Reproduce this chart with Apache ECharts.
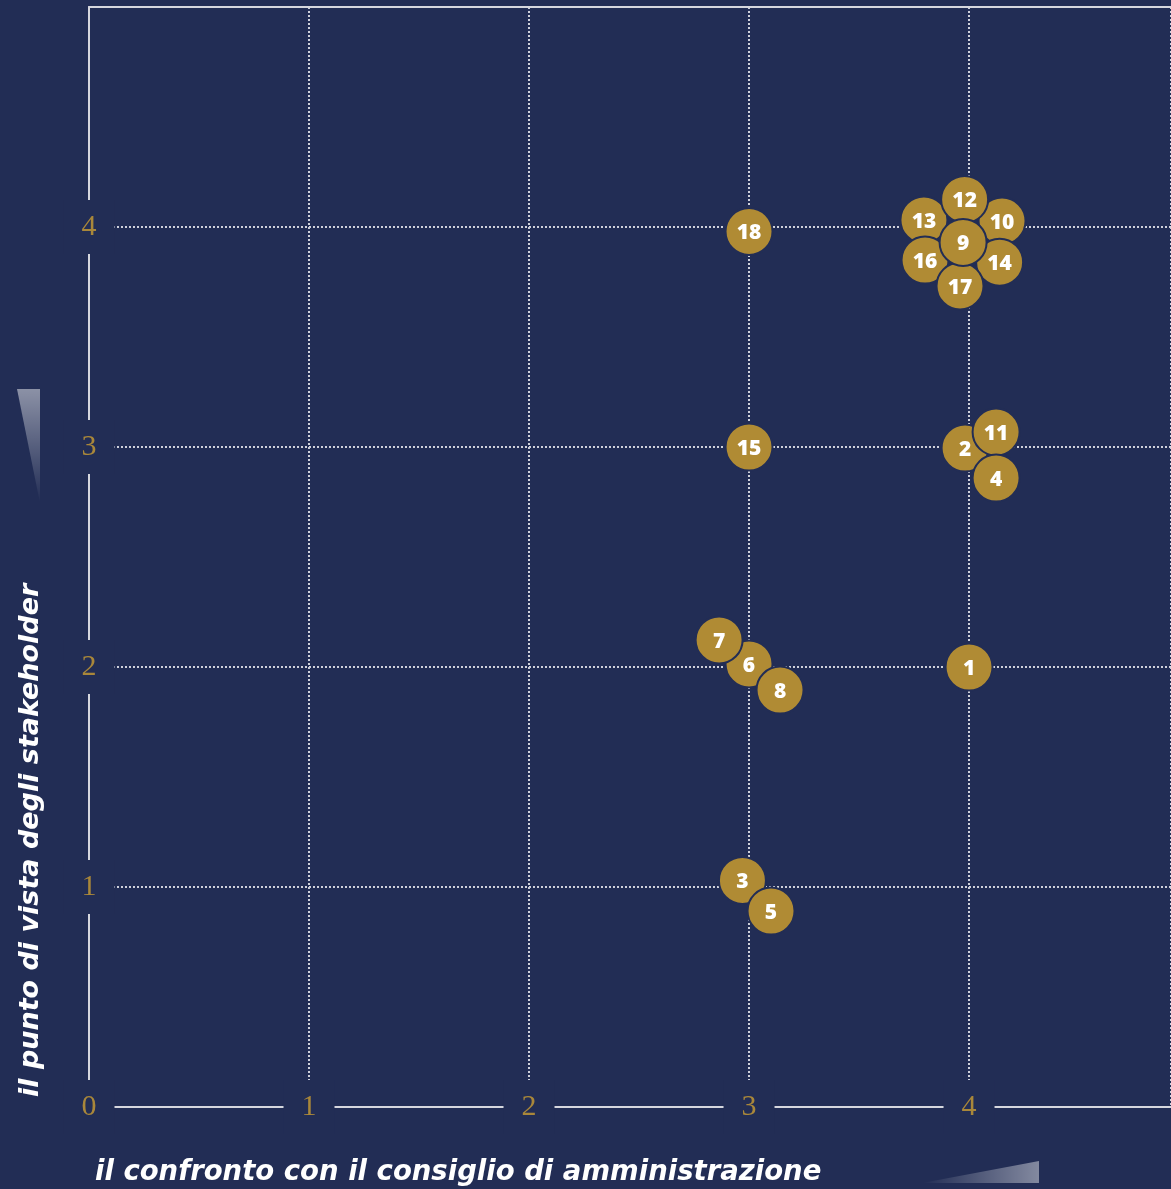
<!DOCTYPE html>
<html>
<head>
<meta charset="utf-8">
<script src="https://cdn.jsdelivr.net/npm/echarts@6/dist/echarts.min.js"></script>
<style>
html,body{margin:0;padding:0;background:#222d55;}
#chart{width:1171px;height:1189px;}
</style>
</head>
<body>
<div id="chart"></div>
<script>
// Data (drawing order: later points on top)
const ids = ['18','15','1','6','7','8','3','5','2','11','4','13','10','16','14','12','17','9'];
const xVals = [3.0, 3.0, 4.0, 3.0, 2.864, 3.141, 2.97, 3.1, 3.982, 4.123, 4.123, 3.795, 4.15, 3.8, 4.139, 3.98, 3.959, 3.973];
const yVals = [3.98, 3.0, 2.0, 2.014, 2.123, 1.895, 1.03, 0.891, 2.995, 3.068, 2.859, 4.032, 4.027, 3.85, 3.84, 4.125, 3.732, 3.93];
const xTitle = 'il confronto con il consiglio di amministrazione';
const yTitle = 'il punto di vista degli stakeholder';
const xMin = 0, xMax = 4.918, yMin = 0, yMax = 5, axisStep = 1;

const NAVY = '#222d55';
const GOLD = '#b08b34';
const LABEL_GOLD = '#a9873a';
const LINE = '#d6d7de';
const DOT = '#cfd1db';

const chart = echarts.init(document.getElementById('chart'), null, {renderer: 'canvas'});

const labelStyle = {
  color: LABEL_GOLD,
  fontFamily: '"Liberation Serif", "DejaVu Serif", serif',
  fontSize: 30,
  lineHeight: 30,
  backgroundColor: NAVY,
  padding: [12, 18, 12, 18],
  margin: 0
};
const dotted = {show: true, lineStyle: {color: DOT, width: 2, type: [2, 2]}};

const option = {
  backgroundColor: NAVY,
  animation: false,
  grid: {left: 89, right: 0, top: 7, bottom: 82, containLabel: false},
  xAxis: [{
    type: 'value', min: xMin, max: xMax, interval: axisStep,
    axisLine: {show: true, lineStyle: {color: LINE, width: 2}},
    axisTick: {show: false},
    axisLabel: Object.assign({}, labelStyle, {verticalAlign: 'middle', align: 'center', showMaxLabel: false}),
    splitLine: dotted
  }, {
    type: 'value', position: 'top', min: xMin, max: xMax, interval: axisStep,
    axisLine: {show: true, onZero: false, lineStyle: {color: LINE, width: 2}},
    axisTick: {show: false}, axisLabel: {show: false}, splitLine: {show: false}
  }],
  yAxis: {
    type: 'value', min: yMin, max: yMax, interval: axisStep,
    axisLine: {show: true, lineStyle: {color: LINE, width: 2}},
    axisTick: {show: false},
    axisLabel: Object.assign({}, labelStyle, {align: 'center', verticalAlign: 'middle', showMinLabel: false, showMaxLabel: false}),
    splitLine: dotted
  },
  graphic: [
    {
      type: 'polygon', silent: true,
      shape: {points: [[17, 389], [40, 389], [40, 503]]},
      style: {fill: new echarts.graphic.LinearGradient(0, 0, 0, 1, [
        {offset: 0, color: 'rgba(255,255,255,0.48)'},
        {offset: 1, color: 'rgba(255,255,255,0)'}
      ])}
    },
    {
      type: 'polygon', silent: true,
      shape: {points: [[922, 1183], [1039, 1161], [1039, 1183]]},
      style: {fill: new echarts.graphic.LinearGradient(0, 0, 1, 0, [
        {offset: 0, color: 'rgba(255,255,255,0)'},
        {offset: 1, color: 'rgba(255,255,255,0.44)'}
      ])}
    },
    {
      type: 'text', x: 95, y: 1173,
      style: {text: xTitle, fill: '#ffffff', font: 'italic bold 27.5px "DejaVu Sans", sans-serif',
        textAlign: 'left', textVerticalAlign: 'middle'}
    },
    {
      type: 'text', x: 31, y: 1097, rotation: Math.PI / 2,
      style: {text: yTitle, fill: '#ffffff', font: 'italic bold 27px "DejaVu Sans", sans-serif',
        textAlign: 'left', textVerticalAlign: 'middle'}
    }
  ],
  series: [{
    type: 'scatter',
    xAxisIndex: 0,
    symbol: 'circle',
    symbolSize: 47,
    itemStyle: {color: GOLD, borderColor: NAVY, borderWidth: 2, opacity: 1},
    label: {
      show: true, position: 'inside', formatter: p => p.name,
      color: '#ffffff', fontWeight: 800, fontSize: 21,
      fontFamily: '"Open Sans", sans-serif', offset: [0, 2]
    },
    emphasis: {disabled: true},
    data: ids.map((id, i) => ({name: id, value: [xVals[i], yVals[i]]}))
  }]
};
chart.setOption(option);
</script>
</body>
</html>
